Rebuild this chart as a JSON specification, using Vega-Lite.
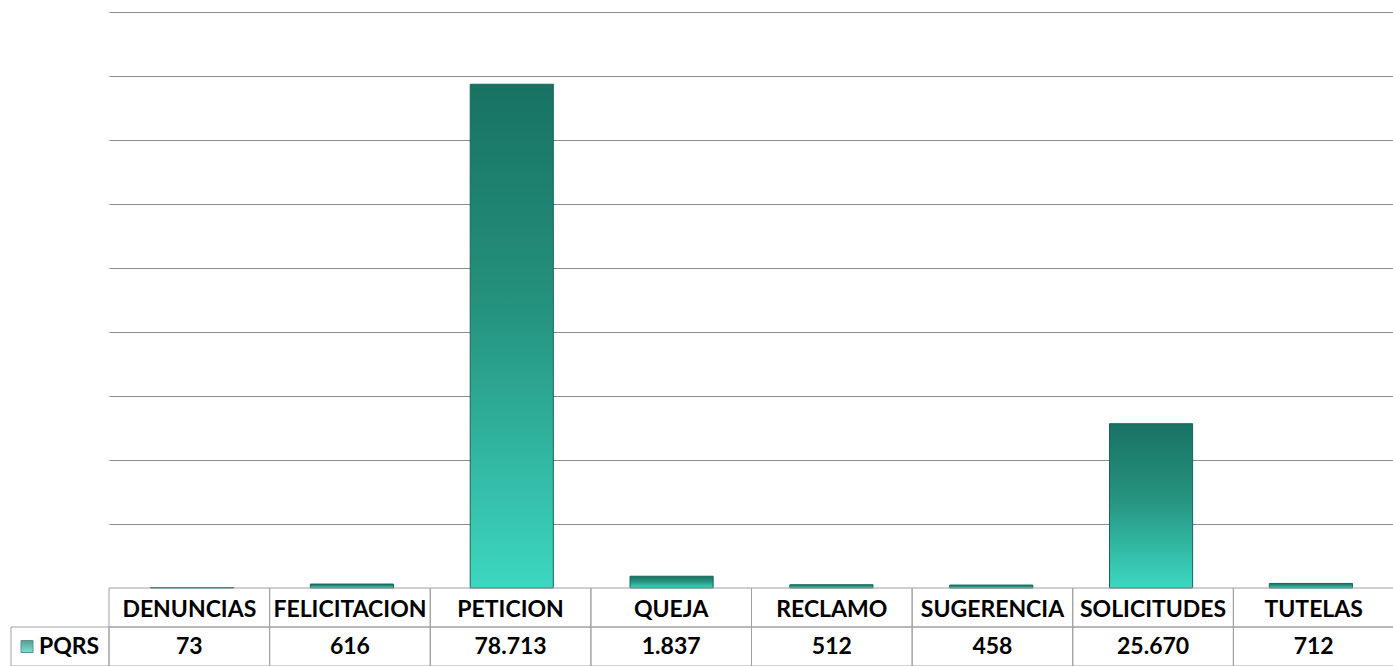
{
  "$schema": "https://vega.github.io/schema/vega-lite/v6.json",
  "padding": {"left": 10, "top": 12, "right": 0, "bottom": 0},
  "background": "white",
  "config": {
    "view": {"stroke": null},
    "concat": {"spacing": 0},
    "locale": {
      "number": {"decimal": ",", "thousands": ".", "grouping": [3], "currency": ["$", ""]}
    },
    "text": {"font": "Lato", "fontWeight": "bold", "fontSize": 23, "color": "#000000"}
  },
  "datasets": {
    "pqrs": [
      {"tipo": "DENUNCIAS", "cantidad": 73},
      {"tipo": "FELICITACION", "cantidad": 616},
      {"tipo": "PETICION", "cantidad": 78713},
      {"tipo": "QUEJA", "cantidad": 1837},
      {"tipo": "RECLAMO", "cantidad": 512},
      {"tipo": "SUGERENCIA", "cantidad": 458},
      {"tipo": "SOLICITUDES", "cantidad": 25670},
      {"tipo": "TUTELAS", "cantidad": 712}
    ],
    "serie": [{"serie": "PQRS"}]
  },
  "columns": 2,
  "bounds": "flush",
  "spacing": 0,
  "concat": [
    {
      "width": 98,
      "height": 576,
      "data": {"values": []},
      "mark": "text"
    },
    {
      "width": 1285,
      "height": 576,
      "data": {"name": "pqrs"},
      "mark": {
        "type": "bar",
        "stroke": "#14665a",
        "strokeWidth": 1,
        "color": {
          "gradient": "linear",
          "x1": 0, "y1": 0, "x2": 0, "y2": 1,
          "stops": [
            {"offset": 0, "color": "#187262"},
            {"offset": 0.45, "color": "#25937f"},
            {"offset": 1, "color": "#3dd7c1"}
          ]
        }
      },
      "encoding": {
        "x": {
          "field": "tipo",
          "type": "nominal",
          "sort": null,
          "scale": {"paddingInner": 0.48, "paddingOuter": 0.26},
          "axis": null
        },
        "y": {
          "field": "cantidad",
          "type": "quantitative",
          "scale": {"domain": [0, 90000], "nice": false},
          "axis": {
            "title": null,
            "labels": false,
            "ticks": false,
            "domain": false,
            "grid": true,
            "gridColor": "#8c8c8c",
            "gridWidth": 1,
            "gridOpacity": 1,
            "values": [10000, 20000, 30000, 40000, 50000, 60000, 70000, 80000, 90000]
          }
        }
      }
    },
    {
      "width": 98,
      "height": 78,
      "data": {"name": "serie"},
      "encoding": {
        "y": {
          "datum": "valor",
          "type": "ordinal",
          "scale": {"domain": ["nombre", "valor"], "paddingInner": 0, "paddingOuter": 0},
          "axis": null
        }
      },
      "layer": [
        {
          "mark": {"type": "rect", "fill": null, "stroke": "#a0a0a0", "strokeWidth": 1},
          "encoding": {"x": {"value": 0}, "x2": {"value": 98}}
        },
        {
          "mark": {
            "type": "point",
            "shape": "square",
            "size": 144,
            "filled": true,
            "stroke": "#14665a",
            "strokeWidth": 1,
            "color": {
              "gradient": "linear",
              "x1": 0, "y1": 0, "x2": 0, "y2": 1,
              "stops": [
                {"offset": 0, "color": "#187262"},
                {"offset": 1, "color": "#3dd7c1"}
              ]
            }
          },
          "encoding": {"x": {"value": 16}}
        },
        {
          "mark": {"type": "text", "align": "left", "dx": 0},
          "encoding": {"x": {"value": 28}, "text": {"field": "serie"}}
        }
      ]
    },
    {
      "width": 1285,
      "height": 78,
      "data": {"name": "pqrs"},
      "transform": [{"fold": ["tipo", "cantidad"], "as": ["fila", "dato"]}],
      "encoding": {
        "x": {
          "field": "tipo",
          "type": "nominal",
          "sort": null,
          "scale": {"paddingInner": 0, "paddingOuter": 0},
          "axis": null
        },
        "y": {
          "field": "fila",
          "type": "ordinal",
          "scale": {"domain": ["tipo", "cantidad"], "paddingInner": 0, "paddingOuter": 0},
          "axis": null
        }
      },
      "layer": [
        {
          "mark": {"type": "rect", "fill": null, "stroke": "#a0a0a0", "strokeWidth": 1}
        },
        {
          "transform": [{"filter": "datum.fila === 'tipo'"}],
          "mark": {"type": "text", "dy": 2},
          "encoding": {"text": {"field": "tipo"}}
        },
        {
          "transform": [{"filter": "datum.fila === 'cantidad'"}],
          "mark": {"type": "text"},
          "encoding": {"text": {"field": "cantidad", "type": "quantitative", "format": ",d"}}
        }
      ]
    }
  ]
}
